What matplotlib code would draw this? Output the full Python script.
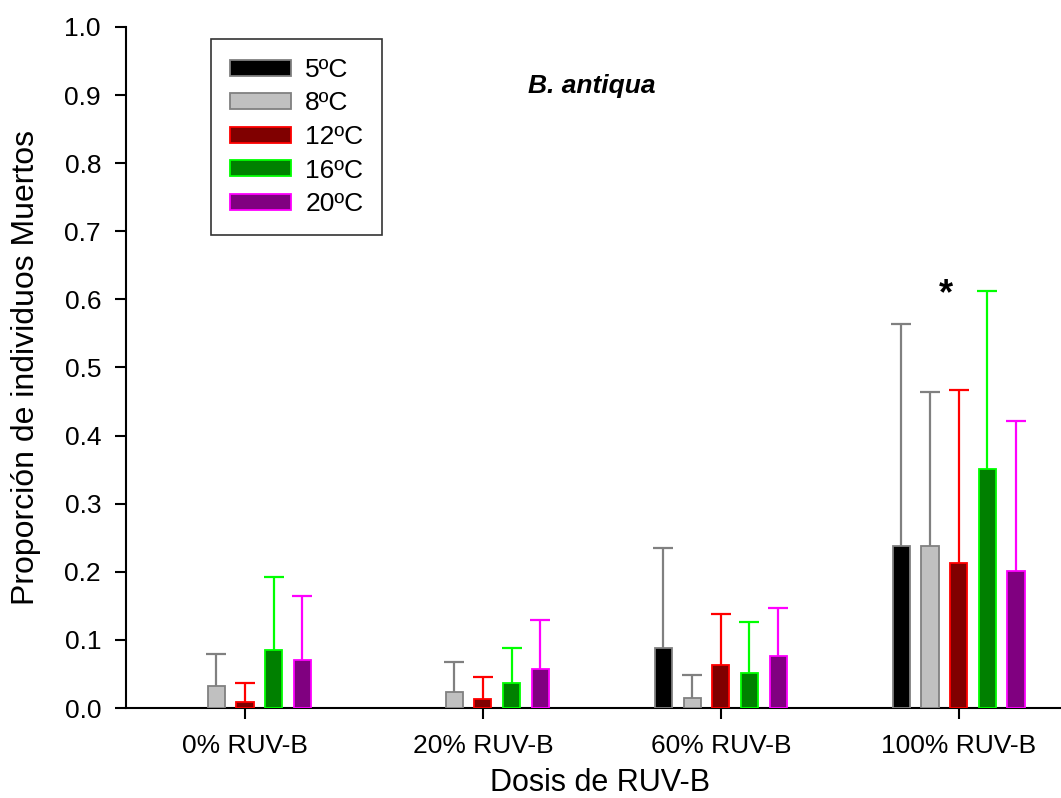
import numpy as np
import matplotlib
matplotlib.use("Agg")
from matplotlib import pyplot as plt

plt.rcParams['font.family'] = ['Liberation Sans', 'DejaVu Sans']

groups = ['0% RUV-B', '20% RUV-B', '60% RUV-B', '100% RUV-B']
temps = ['5ºC', '8ºC', '12ºC', '16ºC', '20ºC']

# mean proportion dead per temperature (rows) and UV dose (columns)
m5 = [0.0, 0.0, 0.088, 0.238]
m8 = [0.032, 0.023, 0.014, 0.238]
m12 = [0.009, 0.013, 0.063, 0.213]
m16 = [0.085, 0.036, 0.051, 0.351]
m20 = [0.070, 0.057, 0.076, 0.201]

# upper end of the error bars
t5 = [0.0, 0.0, 0.235, 0.564]
t8 = [0.080, 0.067, 0.048, 0.464]
t12 = [0.036, 0.045, 0.138, 0.467]
t16 = [0.193, 0.088, 0.127, 0.612]
t20 = [0.165, 0.129, 0.147, 0.421]

fills = ['#000000', '#c0c0c0', '#800000', '#008000', '#800080']
edges = ['#808080', '#808080', '#ff0000', '#00ff00', '#ff00ff']

fig = plt.figure(figsize=(10.61, 7.98), dpi=100)
ax = fig.add_axes([126/1061, 1-708/798, 1-126/1061, (708-27)/798])

x = np.arange(len(groups))
w = 0.072
step = 0.1205
means = [m5, m8, m12, m16, m20]
tops = [t5, t8, t12, t16, t20]
for i in range(5):
    pos = x + (i - 2) * step
    mv = np.array(means[i])
    tv = np.array(tops[i])
    show = mv > 0
    ax.bar(pos[show], mv[show], width=w, color=fills[i], edgecolor=edges[i],
           linewidth=1.3, label=temps[i], zorder=3)
    eb = ax.errorbar(pos[show], mv[show], yerr=[np.zeros(show.sum()), (tv - mv)[show]],
                     fmt='none', ecolor=edges[i], elinewidth=1.6, capsize=7.3,
                     capthick=1.6, zorder=2)
    # only the upper cap is drawn
    eb[1][0].set_visible(False)

ax.text(3 - 0.055, 0.607, '*', fontsize=26, fontweight='bold', ha='center', va='center')
ax.text(1.457, 0.903, 'B. antiqua', fontsize=19, fontweight='bold', style='italic', ha='center')

ax.set_xlim(-0.5, 3.43)
ax.set_ylim(0, 1.0)
ax.set_yticks(np.arange(0, 1.01, 0.1))
ax.set_yticklabels(['%.1f' % v for v in np.arange(0, 1.01, 0.1)])
ax.set_xticks(x)
ax.set_xticklabels(groups)
ax.tick_params(labelsize=19, width=1.5, length=8, direction='out')
ax.tick_params(axis='y', pad=10)
ax.tick_params(axis='x', pad=11)
ax.spines['top'].set_visible(False)
ax.spines['right'].set_visible(False)
ax.spines['left'].set_linewidth(1.5)
ax.spines['bottom'].set_linewidth(1.5)
ax.set_xlabel('Dosis de RUV-B', fontsize=22)
ax.set_ylabel('Proporción de individuos Muertos', fontsize=23)
ax.xaxis.set_label_coords((600-126)/935, -0.088)
ax.yaxis.set_label_coords(-0.091, 0.5)

leg = ax.legend(loc='upper left', bbox_to_anchor=(211/1061, 1-39/798),
                bbox_transform=fig.transFigure, fontsize=19, frameon=True,
                fancybox=False, handlelength=2.3, handleheight=0.55,
                labelspacing=0.36, borderpad=0.72, handletextpad=0.55, borderaxespad=0)
leg.get_frame().set_edgecolor('black')
leg.get_frame().set_linewidth(1.2)

fig.savefig('out.png', dpi=100)
